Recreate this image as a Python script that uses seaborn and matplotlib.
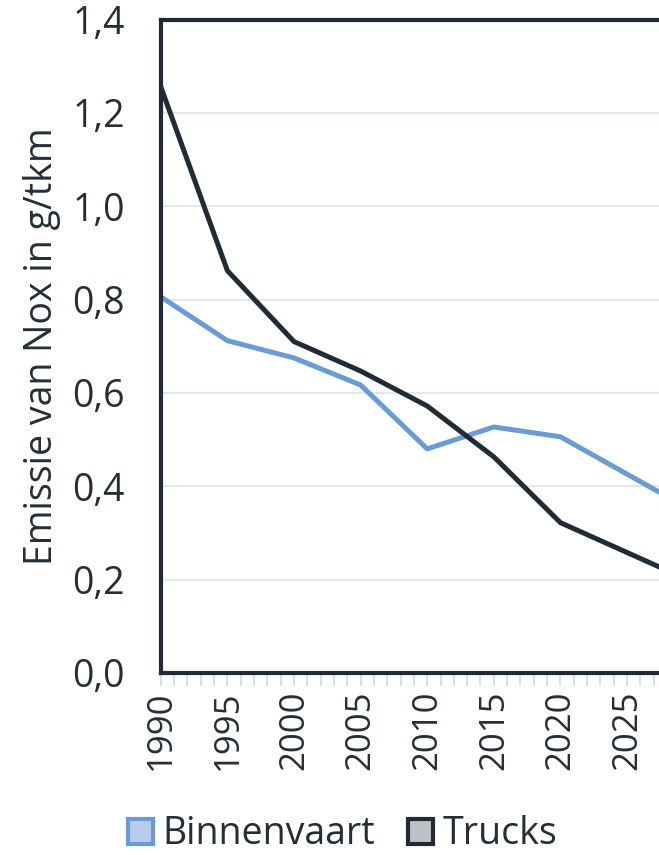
import matplotlib
matplotlib.use("Agg")
import matplotlib.pyplot as plt
import matplotlib.ticker as mticker
from matplotlib.patches import Patch
import pandas as pd
import seaborn as sns

years = [1990, 1995, 2000, 2005, 2010, 2015, 2020, 2025, 2030]
binnenvaart = [0.806, 0.712, 0.675, 0.617, 0.480, 0.527, 0.506, 0.426, 0.346]
trucks = [1.256, 0.862, 0.710, 0.647, 0.572, 0.463, 0.322, 0.258, 0.194]
series = ["Binnenvaart", "Trucks"]
line_colors = ["#6b9bd3", "#222b33"]
fill_colors = ["#b8cde9", "#bfc2c5"]
y_ticks = [0.0, 0.2, 0.4, 0.6, 0.8, 1.0, 1.2, 1.4]
x_ticks = [1990, 1995, 2000, 2005, 2010, 2015, 2020, 2025]

df = pd.DataFrame({"jaar": years * 2,
                   "emissie": binnenvaart + trucks,
                   "soort": ["Binnenvaart"] * len(years) + ["Trucks"] * len(years)})

sns.set_theme(style="white")
plt.rcParams["font.family"] = ["Open Sans", "DejaVu Sans"]
text_color = "#252d35"

fig = plt.figure(figsize=(6.59, 8.55), dpi=100)
ax = fig.add_axes([0.244, 0.213, 0.756, 0.764])

sns.lineplot(data=df, x="jaar", y="emissie", hue="soort", hue_order=series,
             palette=line_colors, linewidth=3.6, legend=False, ax=ax)

ax.set_xlim(1990, 2027.4)
ax.set_ylim(0, 1.4)
ax.set_yticks(y_ticks)
ax.yaxis.set_major_formatter(mticker.FuncFormatter(lambda v, p: f"{v:.1f}".replace(".", ",")))
ax.set_xticks(x_ticks)
ax.set_xticklabels([str(x) for x in x_ticks], rotation=90)
ax.xaxis.set_minor_locator(mticker.MultipleLocator(1))
ax.grid(axis="y", color="#dfe3e8", linewidth=1.2)
ax.set_axisbelow(True)

for side in ["left", "top", "bottom"]:
    ax.spines[side].set_color("#222b33")
    ax.spines[side].set_linewidth(3)
ax.spines["right"].set_visible(False)

ax.tick_params(axis="x", which="both", direction="out", length=9, width=1.2,
               color="#d5dbe1", labelsize=25, labelcolor=text_color, pad=4, bottom=True)
ax.tick_params(axis="y", length=0, labelsize=27, labelcolor=text_color, pad=26)

ax.set_xlabel("")
ax.set_ylabel("Emissie van Nox in g/tkm", fontsize=27, color=text_color, labelpad=8)

handles = [Patch(facecolor=f, edgecolor=e, linewidth=3, label=s)
           for s, e, f in zip(series, line_colors, fill_colors)]
fig.legend(handles=handles, loc="center", bbox_to_anchor=(0.52, 0.024), ncol=2,
           frameon=False, fontsize=27, labelcolor=text_color, handlelength=0.65,
           handleheight=0.65, handletextpad=0.25, columnspacing=0.9)

fig.savefig("out.png", dpi=100)
